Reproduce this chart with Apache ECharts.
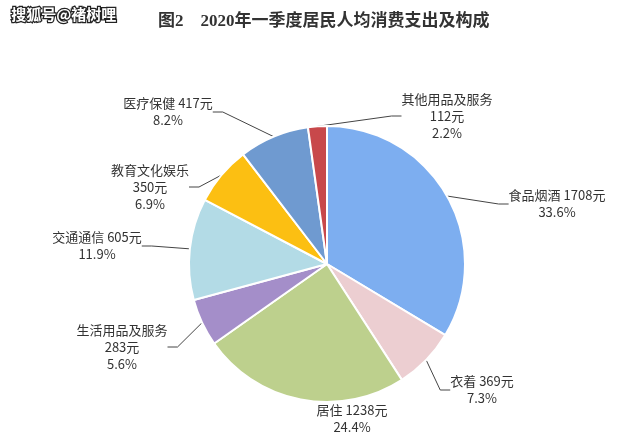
<!DOCTYPE html>
<html><head><meta charset="utf-8">
<script src="https://cdn.jsdelivr.net/npm/echarts@6/dist/echarts.min.js"></script>
<style>html,body{margin:0;padding:0;background:#fff}#c{width:640px;height:448px}</style>
</head><body><div id="c"></div>
<script>
const categories = ['食品烟酒','衣着','居住','生活用品及服务','交通通信','教育文化娱乐','医疗保健','其他用品及服务'];
const values = [1708, 369, 1238, 283, 605, 350, 417, 112];
const percents = ['33.6%','7.3%','24.4%','5.6%','11.9%','6.9%','8.2%','2.2%'];
const colors = ['#7daef0','#ecced1','#bdd08d','#a48ec9','#b3dbe6','#fcbf12','#6f9ad0','#c8484b'];
const threeLine = ['生活用品及服务','教育文化娱乐','其他用品及服务'];
const noLine = ['居住'];
// label anchor positions (centers)
const labelPos = [[557,204],[482,390],[352,419],[122,347],[97,246],[150,187],[168,112],[447,116]];

const chart = echarts.init(document.getElementById('c'));
chart.setOption({
  animation:false,
  graphic:[
    {type:'text',left:10,top:6,style:{text:'搜狐号@褚树哩',fill:'#fff',stroke:'#222',lineWidth:2.5,font:'bold 15px "Noto Sans CJK SC"'}},
    {type:'text',left:158,top:13,style:{text:'图2    2020年一季度居民人均消费支出及构成',fill:'#333',font:'bold 17px "Liberation Serif","Noto Sans CJK SC"'}}
  ],
  series:[{
    type:'pie',
    center:[327,264],
    radius:[0,138],
    startAngle:90,
    clockwise:true,
    itemStyle:{borderColor:'#fff',borderWidth:2},
    data:categories.map((n,i)=>({name:n,value:values[i],itemStyle:{color:colors[i]},
      labelLine:{show:!noLine.includes(n)}})),
    label:{
      show:true,
      color:'#333',
      fontSize:13,
      lineHeight:17,
      fontFamily:'"Noto Sans CJK SC"',
      align:'center',
      formatter:p=> threeLine.includes(p.name)
        ? p.name+'\n'+p.value+'元\n'+percents[p.dataIndex]
        : p.name+' '+p.value+'元\n'+percents[p.dataIndex]
    },
    labelLine:{show:true,lineStyle:{color:'#444',width:1},length:10,length2:10},
    labelLayout:function(p){
      const pos = labelPos[p.dataIndex];
      return {x:pos[0],y:pos[1],align:'center',verticalAlign:'middle'};
    }
  }]
});
</script></body></html>
